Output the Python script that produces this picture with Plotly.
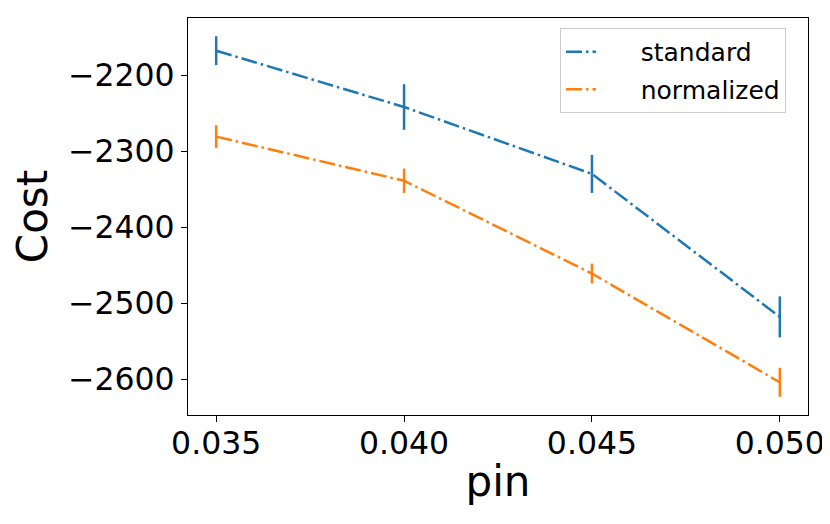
import plotly.graph_objects as go

pin = [0.035, 0.040, 0.045, 0.050]
standard = [-2168, -2242, -2330, -2518]
standard_err = [19, 30, 25, 27]
normalized = [-2281, -2339, -2461, -2604]
normalized_err = [15, 16, 13, 19]

C0 = "#1f77b4"
C1 = "#ff7f0e"
DASH = "16px,4px,2.5px,4px"
FONT = "DejaVu Sans"
PAD = "\u00a0" * 5

fig = go.Figure()
fig.add_trace(go.Scatter(
    x=pin, y=standard, mode="lines", name=PAD + "standard", legendgroup="a",
    line=dict(color=C0, width=2.5, dash=DASH),
    error_y=dict(type="data", array=standard_err, visible=True,
                 color=C0, thickness=2.5, width=0),
))
fig.add_trace(go.Scatter(
    x=pin, y=normalized, mode="lines", name=PAD + "normalized", legendgroup="b",
    line=dict(color=C1, width=2.5, dash=DASH),
    error_y=dict(type="data", array=normalized_err, visible=True,
                 color=C1, thickness=2.5, width=0),
))

axis_common = dict(
    showline=True, linecolor="black", linewidth=1.3, mirror=True,
    ticks="outside", ticklen=6, tickwidth=1.2, tickcolor="black",
    showgrid=False, zeroline=False, automargin=False,
    tickfont=dict(family=FONT, size=31.5, color="black"),
)

fig.update_layout(
    width=822, height=516,
    margin=dict(l=180, r=22, t=10, b=109),
    paper_bgcolor="white", plot_bgcolor="white",
    font=dict(family=FONT, color="black"),
    showlegend=True,
    legend=dict(
        x=0.9645, y=0.975, xanchor="right", yanchor="top",
        bgcolor="rgba(255,255,255,0.8)", bordercolor="#cccccc", borderwidth=1,
        font=dict(family=FONT, size=25, color="black"),
        tracegroupgap=2,
    ),
    xaxis=dict(
        range=[0.03425, 0.05075],
        tickvals=pin, tickformat=".3f",
        ticklabelstandoff=-6,
        title=dict(text="pin", font=dict(family=FONT, size=42, color="black"), standoff=6),
        **axis_common,
    ),
    yaxis=dict(
        range=[-2647, -2125],
        dtick=100, tick0=0,
        title=dict(text="Cost", font=dict(family=FONT, size=42, color="black"), standoff=14),
        **axis_common,
    ),
)

fig.write_html("out.html")
